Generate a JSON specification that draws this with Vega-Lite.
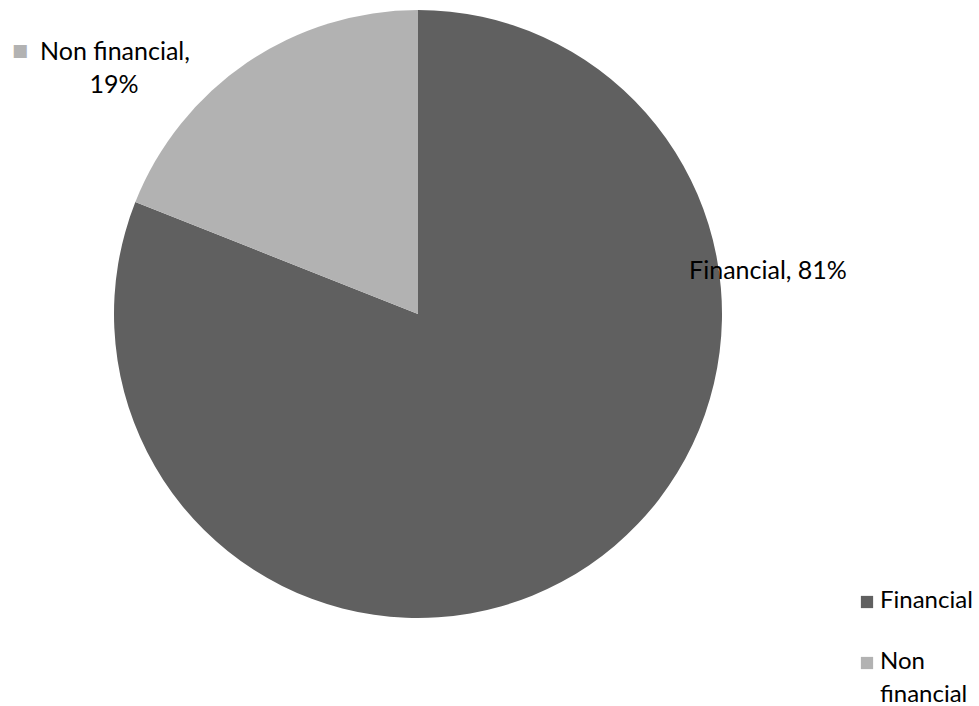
{
  "$schema": "https://vega.github.io/schema/vega-lite/v6.json",
  "width": 836,
  "height": 628,
  "padding": 0,
  "background": "white",
  "config": {"view": {"stroke": null}, "font": "Lato"},
  "data": {"values": [
    {"category": "Financial", "value": 81, "label": "Financial, 81%"},
    {"category": "Non financial", "value": 19, "label": "Non financial, 19%"}
  ]},
  "encoding": {
    "theta": {"field": "value", "type": "quantitative", "stack": true}
  },
  "layer": [
    {
      "mark": {"type": "arc", "outerRadius": 304},
      "encoding": {
        "color": {
          "field": "category", "type": "nominal",
          "scale": {"domain": ["Financial", "Non financial"], "range": ["#606060", "#b2b2b2"]},
          "legend": {
            "title": null,
            "orient": "none",
            "legendX": 855,
            "legendY": 590,
            "symbolType": "square",
            "symbolSize": 150,
            "symbolStrokeWidth": 0,
            "labelFont": "Lato",
            "labelFontSize": 24,
            "labelColor": "#000000",
            "labelLimit": 200,
            "labelBaseline": "top",
            "labelOffset": 1,
            "rowPadding": 37,
            "labelExpr": "datum.label == 'Non financial' ? ['Non', 'financial'] : datum.label",
            "encode": {"labels": {"update": {"dy": {"value": -13}, "lineHeight": {"value": 33}}}}
          }
        }
      }
    },
    {
      "mark": {"type": "text", "radius": 0, "dx": 350, "dy": -43, "fontSize": 25, "font": "Lato", "color": "#000000", "align": "center", "baseline": "middle"},
      "encoding": {
        "text": {"condition": {"test": "datum.category == 'Financial'", "field": "label"}, "value": ""}
      }
    },
    {
      "mark": {"type": "text", "radius": 0, "dx": -303, "dy": -262, "fontSize": 25, "font": "Lato", "color": "#000000", "align": "center", "baseline": "middle"},
      "encoding": {
        "text": {"condition": {"test": "datum.category == 'Non financial'", "value": "Non financial,"}, "value": ""}
      }
    },
    {
      "mark": {"type": "text", "radius": 0, "dx": -304, "dy": -229, "fontSize": 25, "font": "Lato", "color": "#000000", "align": "center", "baseline": "middle"},
      "encoding": {
        "text": {"condition": {"test": "datum.category == 'Non financial'", "value": "19%"}, "value": ""}
      }
    },
    {
      "mark": {"type": "text", "radius": 0, "dx": -398, "dy": -263, "fontSize": 17, "font": "DejaVu Sans", "color": "#b2b2b2", "align": "center", "baseline": "middle"},
      "encoding": {
        "text": {"condition": {"test": "datum.category == 'Non financial'", "value": "■"}, "value": ""}
      }
    }
  ]
}
